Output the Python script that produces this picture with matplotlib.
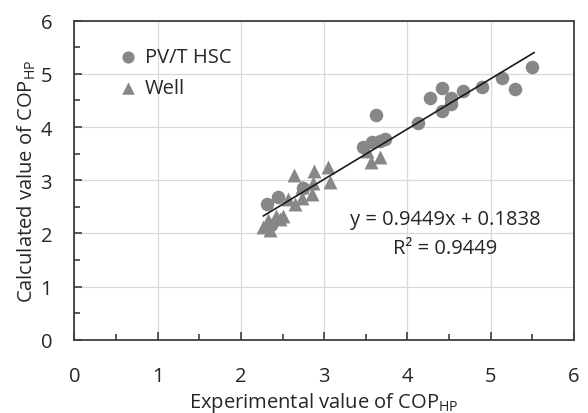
import matplotlib
matplotlib.use("Agg")
import matplotlib.pyplot as plt
import numpy as np

plt.rcParams['font.family'] = ['Open Sans', 'DejaVu Sans']

# PV/T HSC (circles)
hsc_x = [2.31, 2.44, 2.74, 3.47, 3.57, 3.62, 3.67, 3.73, 4.13, 4.27, 4.41, 4.41,
         4.52, 4.52, 4.67, 4.90, 5.14, 5.29, 5.50, 2.36]
hsc_y = [2.55, 2.68, 2.86, 3.62, 3.71, 4.22, 3.74, 3.77, 4.07, 4.54, 4.73, 4.30,
         4.54, 4.43, 4.68, 4.76, 4.92, 4.71, 5.12, 2.15]

# Well (triangles)
well_x = [2.64, 2.88, 3.05, 2.87, 3.07, 2.85, 2.73, 2.65, 2.57, 2.50, 2.42, 2.27,
          2.35, 2.47, 3.56, 3.67, 2.73, 2.33, 3.52]
well_y = [3.09, 3.18, 3.25, 2.95, 2.96, 2.74, 2.66, 2.55, 2.64, 2.33, 2.33, 2.12,
          2.06, 2.27, 3.35, 3.43, 2.88, 2.25, 3.55]

fit_slope = 0.9449
fit_intercept = 0.1838
fit_range = [2.27, 5.52]

x_ticks = [0, 1, 2, 3, 4, 5, 6]
y_ticks = [0, 1, 2, 3, 4, 5, 6]

color = '#878787'
fs = 14.5

fig = plt.figure(figsize=(5.88, 4.14), dpi=100)
ax = fig.add_axes([0.1265, 0.177, 0.8497, 0.7706])

ax.scatter(hsc_x, hsc_y, s=95, marker='o', color=color, linewidths=0, zorder=3, label='PV/T HSC')
ax.scatter(well_x, well_y, s=100, marker='^', color=color, linewidths=0, zorder=4, label='Well')

fx = np.array(fit_range)
ax.plot(fx, fit_slope * fx + fit_intercept, color='#1a1a1a', lw=1.2, zorder=5)

ax.set_xlim(0, 6)
ax.set_ylim(0, 6)
ax.set_xticks(x_ticks)
ax.set_yticks(y_ticks)
ax.set_xticks(np.arange(0.5, 6, 1.0), minor=True)
ax.set_yticks(np.arange(0.5, 6, 1.0), minor=True)
ax.grid(True, which='major', color='#d9d9d9', lw=0.9, zorder=0)
ax.set_axisbelow(True)
ax.tick_params(which='major', direction='in', length=6, width=1.2, color='#3f3f3f',
               labelsize=fs, labelcolor='#262626')
ax.tick_params(which='minor', direction='in', length=4, width=1.2, color='#3f3f3f')
ax.tick_params(axis='x', which='major', pad=19)
ax.tick_params(axis='y', which='major', pad=16)
for sp in ax.spines.values():
    sp.set_color('#3f3f3f')
    sp.set_linewidth(1.3)

ax.set_xlabel('Experimental value of COP$_{\\mathregular{HP}}$', fontsize=fs, color='#262626', labelpad=3)
ax.set_ylabel('Calculated value of COP$_{\\mathregular{HP}}$', fontsize=fs, color='#262626', labelpad=2)

leg = ax.legend(loc='upper left', bbox_to_anchor=(0.05, 0.975), frameon=False, fontsize=fs,
                handlelength=1.0, handletextpad=0.35, labelspacing=0.55, markerscale=0.9,
                labelcolor='#262626')

ax.text(4.45, 2.27, 'y = 0.9449x + 0.1838', ha='center', va='center', fontsize=fs, color='#262626')
ax.text(4.45, 1.72, 'R² = 0.9449', ha='center', va='center', fontsize=fs, color='#262626')

fig.savefig('out.png', dpi=100)
